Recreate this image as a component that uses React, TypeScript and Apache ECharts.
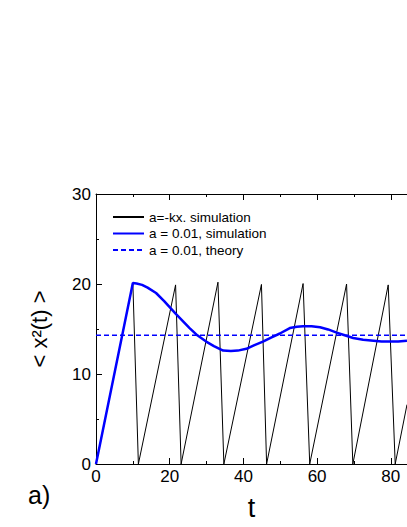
import React, { useEffect, useRef } from "react";
import * as echarts from "echarts";

const FONT = "'Liberation Sans', Arial, Helvetica, sans-serif";

const X_MAX = 84.4;

// black sawtooth: a = -kx simulation
const sawT = [0, 10, 11.5, 21.6, 23.1, 33.1, 34.7, 44.9, 46.3, 56.2, 58.0, 68.0, 69.7, 79.3, 81.2, 84.4];
const sawV = [0, 20.1, 0, 19.9, 0, 20.2, 0, 19.95, 0, 20.05, 0, 20.0, 0, 19.9, 0, 6.6];

// blue simulation a = 0.01
const simT = [0, 10, 11, 12.5, 14, 16.3, 18.5, 21.6, 23.5, 25.4, 27.5, 29.9, 32, 34.5, 36.6, 38.5, 40.8, 43, 45.3, 47.5, 49.9, 52.6, 54.5, 56.2, 58.5, 60.8, 63, 65.3, 67.5, 69.8, 72.5, 75.3, 77.5, 79.8, 82, 84.4];
const simV = [0, 20.1, 20.05, 19.9, 19.6, 19.0, 18.1, 16.7, 15.9, 15.1, 14.3, 13.6, 13.1, 12.6, 12.55, 12.6, 12.8, 13.2, 13.6, 14.05, 14.5, 15.1, 15.25, 15.3, 15.3, 15.2, 14.95, 14.6, 14.3, 14.0, 13.8, 13.7, 13.6, 13.6, 13.6, 13.7];

// theory
const theoryT = [0, 84.4];
const theoryV = [14.3, 14.3];

const seriesNames = ["a=-kx. simulation", "a = 0.01, simulation", "a = 0.01, theory"];

const zip = (a: number[], b: number[]) => a.map((v, i) => [v, b[i]]);

export default function App() {
  const ref = useRef<HTMLDivElement>(null);
  useEffect(() => {
    if (!ref.current) return;
    const chart = echarts.init(ref.current, null, { renderer: "svg" });
    const axisCommon = {
      axisLine: { show: true, lineStyle: { color: "#000", width: 1 } },
      splitLine: { show: false },
    };
    chart.setOption({
      animation: false,
      backgroundColor: "#fff",
      grid: { left: 96, top: 194, width: 311, height: 270, containLabel: false },
      legend: {
        orient: "vertical",
        left: 112,
        top: 210,
        padding: 0,
        itemGap: 2.5,
        itemWidth: 31,
        itemHeight: 14,
        data: seriesNames,
        itemStyle: { opacity: 0 },
        textStyle: { fontFamily: FONT, fontSize: 13.5, color: "#000" },
      },
      xAxis: [
        {
          type: "value",
          min: 0,
          max: X_MAX,
          interval: 20,
          position: "bottom",
          ...axisCommon,
          axisTick: { show: true, inside: true, length: 6, lineStyle: { color: "#000" } },
          minorTick: { show: true, splitNumber: 2, length: 3, lineStyle: { color: "#000" } },
          axisLabel: { showMaxLabel: false, fontFamily: FONT, fontSize: 17, color: "#000", margin: 4 },
          name: "t",
          nameLocation: "middle",
          nameGap: 30,
          nameTextStyle: { fontFamily: FONT, fontSize: 27, color: "#000" },
        },
        {
          type: "value",
          min: 0,
          max: X_MAX,
          interval: 20,
          position: "top",
          ...axisCommon,
          axisTick: { show: true, inside: true, length: 6, lineStyle: { color: "#000" } },
          minorTick: { show: true, splitNumber: 2, length: 3, lineStyle: { color: "#000" } },
          axisLabel: { show: false },
        },
      ],
      yAxis: {
        type: "value",
        min: 0,
        max: 30,
        interval: 10,
        ...axisCommon,
        axisTick: { show: true, inside: true, length: 6, lineStyle: { color: "#000" } },
        minorTick: { show: true, splitNumber: 2, length: 3, lineStyle: { color: "#000" } },
        axisLabel: { fontFamily: FONT, fontSize: 17, color: "#000", margin: 5 },
        name: "< x²(t) >",
        nameLocation: "middle",
        nameGap: 46,
        nameRotate: 90,
        nameTextStyle: { fontFamily: FONT, fontSize: 22, color: "#000" },
      },
      graphic: [
        {
          type: "text",
          left: 28,
          top: 482,
          style: { text: "a)", font: `25px ${FONT}`, fill: "#000" },
        },
      ],
      series: [
        {
          name: seriesNames[0],
          type: "line",
          data: zip(sawT, sawV),
          symbol: "none",
          lineStyle: { color: "#000", width: 1 },
          itemStyle: { color: "#000" },
          z: 2,
        },
        {
          name: seriesNames[1],
          type: "line",
          data: zip(simT, simV),
          symbol: "none",
          lineStyle: { color: "#0000ff", width: 2.5 },
          itemStyle: { color: "#0000ff" },
          z: 3,
        },
        {
          name: seriesNames[2],
          type: "line",
          data: zip(theoryT, theoryV),
          symbol: "none",
          lineStyle: { color: "#0000ff", width: 1.5, type: [5, 3] },
          itemStyle: { color: "#0000ff" },
          z: 4,
        },
      ],
    });
    return () => chart.dispose();
  }, []);
  return (
    <div
      ref={ref}
      style={{ position: "fixed", left: 0, top: 0, width: 407, height: 527, background: "#fff" }}
    />
  );
}
